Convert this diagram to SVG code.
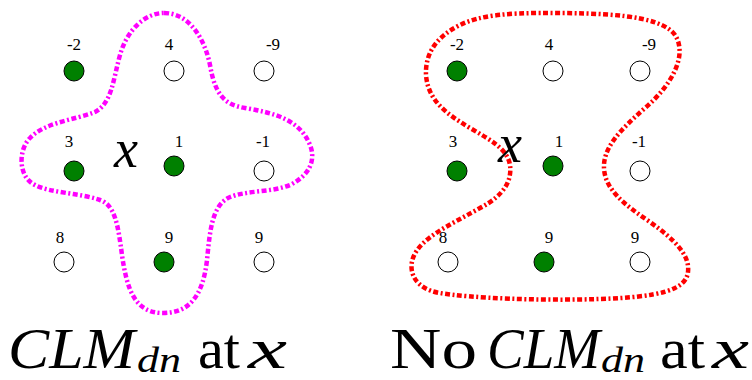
<svg xmlns="http://www.w3.org/2000/svg" width="752" height="380" viewBox="0 0 752 380">
<rect width="752" height="380" fill="#fff"/>
<g id="connectors" fill="none" stroke-width="4.5" stroke-dasharray="5 2.5 2 2.5">
<path id="cluster-left" stroke="#ff00ff" d="M 164,13 C 190,13 205,40 210,65 C 215,95 225,105 245,108 C 275,113 300,120 310,145 C 316,160 310,175 290,185 C 270,193 245,190 228,198 C 212,207 210,230 207,260 C 203,295 190,313 163,313 C 135,313 127,290 122,255 C 118,225 115,205 100,200 C 80,193 50,193 35,185 C 18,177 18,150 30,138 C 45,122 75,120 95,112 C 112,103 113,80 120,55 C 127,30 145,13 164,13 Z"/>
<path id="cluster-right" stroke="#ff0000" d="M 543,13 C 600,13 660,14 675,35 C 688,55 672,85 645,108 C 620,130 603,148 604,168 C 605,190 625,205 650,222 C 675,240 690,255 688,272 C 686,290 660,297 600,299 C 540,301 470,298 440,293 C 415,289 408,272 413,258 C 420,238 450,225 480,208 C 505,195 512,180 510,165 C 507,148 490,140 470,128 C 445,113 428,100 426,75 C 425,50 440,35 460,25 C 480,15 510,13 543,13 Z"/>
</g>
<g id="left-panel" fill="#000">
<g id="l-n1"><circle fill="#008000" stroke="#000" cx="74" cy="71" r="10"/><text font-family="Liberation Serif" font-size="17" text-anchor="middle" x="74" y="50">-2</text></g>
<g id="l-n2"><circle fill="#fff" stroke="#000" cx="174" cy="71" r="10"/><text font-family="Liberation Serif" font-size="17" text-anchor="middle" x="169" y="50">4</text></g>
<g id="l-n3"><circle fill="#fff" stroke="#000" cx="264" cy="71" r="10"/><text font-family="Liberation Serif" font-size="17" text-anchor="middle" x="273" y="50">-9</text></g>
<g id="l-n4"><circle fill="#008000" stroke="#000" cx="74" cy="171" r="10"/><text font-family="Liberation Serif" font-size="17" text-anchor="middle" x="69" y="147">3</text></g>
<g id="l-n5"><circle fill="#008000" stroke="#000" cx="174" cy="166" r="10"/><text font-family="Liberation Serif" font-size="17" text-anchor="middle" x="179" y="147">1</text></g>
<g id="l-n6"><circle fill="#fff" stroke="#000" cx="264" cy="171" r="10"/><text font-family="Liberation Serif" font-size="17" text-anchor="middle" x="263" y="147">-1</text></g>
<g id="l-n7"><circle fill="#fff" stroke="#000" cx="64" cy="262" r="10"/><text font-family="Liberation Serif" font-size="17" text-anchor="middle" x="60" y="243">8</text></g>
<g id="l-n8"><circle fill="#008000" stroke="#000" cx="164" cy="262" r="10"/><text font-family="Liberation Serif" font-size="17" text-anchor="middle" x="169" y="243">9</text></g>
<g id="l-n9"><circle fill="#fff" stroke="#000" cx="264" cy="262" r="10"/><text font-family="Liberation Serif" font-size="17" text-anchor="middle" x="259" y="243">9</text></g>
<text font-family="Liberation Serif" font-style="italic" font-size="54" x="114" y="167">x</text>
</g>
<g id="right-panel" fill="#000">
<g id="r-n1"><circle fill="#008000" stroke="#000" cx="457" cy="71" r="10"/><text font-family="Liberation Serif" font-size="17" text-anchor="middle" x="457" y="50">-2</text></g>
<g id="r-n2"><circle fill="#fff" stroke="#000" cx="553" cy="71" r="10"/><text font-family="Liberation Serif" font-size="17" text-anchor="middle" x="549" y="50">4</text></g>
<g id="r-n3"><circle fill="#fff" stroke="#000" cx="640" cy="71" r="10"/><text font-family="Liberation Serif" font-size="17" text-anchor="middle" x="649" y="50">-9</text></g>
<g id="r-n4"><circle fill="#008000" stroke="#000" cx="457" cy="171" r="10"/><text font-family="Liberation Serif" font-size="17" text-anchor="middle" x="453" y="147">3</text></g>
<g id="r-n5"><circle fill="#008000" stroke="#000" cx="553" cy="166" r="10"/><text font-family="Liberation Serif" font-size="17" text-anchor="middle" x="559" y="147">1</text></g>
<g id="r-n6"><circle fill="#fff" stroke="#000" cx="640" cy="171" r="10"/><text font-family="Liberation Serif" font-size="17" text-anchor="middle" x="639" y="147">-1</text></g>
<g id="r-n7"><circle fill="#fff" stroke="#000" cx="448" cy="262" r="10"/><text font-family="Liberation Serif" font-size="17" text-anchor="middle" x="443" y="243">8</text></g>
<g id="r-n8"><circle fill="#008000" stroke="#000" cx="544" cy="262" r="10"/><text font-family="Liberation Serif" font-size="17" text-anchor="middle" x="549" y="243">9</text></g>
<g id="r-n9"><circle fill="#fff" stroke="#000" cx="640" cy="262" r="10"/><text font-family="Liberation Serif" font-size="17" text-anchor="middle" x="635" y="243">9</text></g>
<text font-family="Liberation Serif" font-style="italic" font-size="54" x="498" y="162">x</text>
</g>
<g id="captions" fill="#000">
<text font-family="Liberation Serif" font-style="italic" font-size="56" x="8" y="368" textLength="127" lengthAdjust="spacingAndGlyphs">CLM</text>
<text font-family="Liberation Serif" font-style="italic" font-size="36" x="137" y="372" textLength="44" lengthAdjust="spacingAndGlyphs">dn</text>
<text font-family="Liberation Serif" font-size="56" x="198" y="368" textLength="42" lengthAdjust="spacingAndGlyphs">at</text>
<text font-family="Liberation Serif" font-style="italic" font-size="56" x="248" y="368" textLength="39" lengthAdjust="spacingAndGlyphs">x</text>
<text font-family="Liberation Serif" font-size="56" x="390" y="368" textLength="87" lengthAdjust="spacingAndGlyphs">No</text>
<text font-family="Liberation Serif" font-style="italic" font-size="56" x="487" y="368" textLength="113" lengthAdjust="spacingAndGlyphs">CLM</text>
<text font-family="Liberation Serif" font-style="italic" font-size="36" x="601" y="372" textLength="44" lengthAdjust="spacingAndGlyphs">dn</text>
<text font-family="Liberation Serif" font-size="56" x="660" y="368" textLength="45" lengthAdjust="spacingAndGlyphs">at</text>
<text font-family="Liberation Serif" font-style="italic" font-size="56" x="712" y="368" textLength="37" lengthAdjust="spacingAndGlyphs">x</text>
</g>
</svg>
